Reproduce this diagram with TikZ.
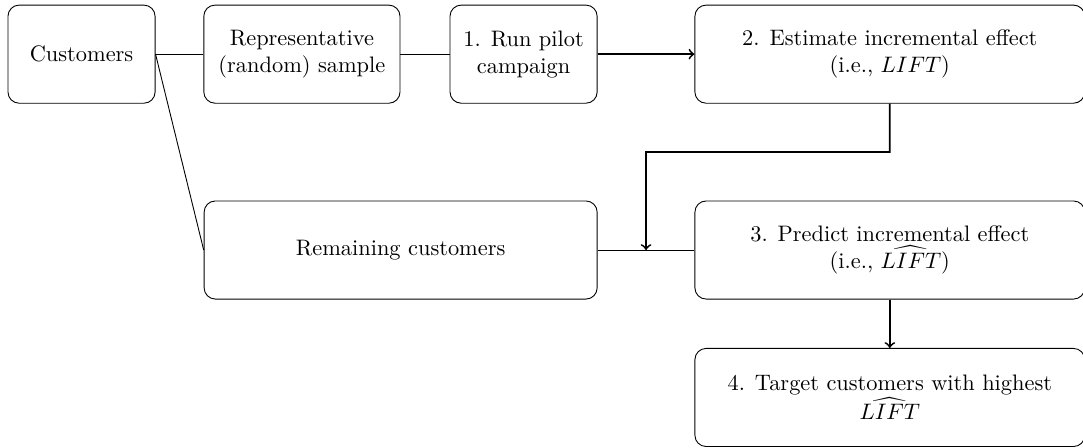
\documentclass[tikz,border=0pt]{standalone}
\usetikzlibrary{calc}
\begin{document}
\begin{tikzpicture}[
caixa/.style={rectangle,draw,rounded corners=5pt,align=center,
minimum height=1.54cm},
fluxo/.style={thick,->}
]
\useasboundingbox (0,0) rectangle (17.003,-7.018);

% linha de cima
\node[caixa,minimum width=2.31cm] (cust) at (1.28,-0.85) {Customers};
\node[caixa,minimum width=3.08cm] (rep) at (4.74,-0.85) {Representative\\(random) sample};
\node[caixa,minimum width=2.31cm] (pilot) at (8.22,-0.85) {1. Run pilot\\campaign};
\node[caixa,minimum width=6.12cm] (estim) at (13.97,-0.85) {2. Estimate incremental effect\\(i.e., $LIFT$)};
% linha de baixo
\node[caixa,minimum width=6.17cm] (remain) at (6.29,-3.925) {Remaining customers};
\node[caixa,minimum width=6.12cm] (predict) at (13.97,-3.925) {3. Predict incremental effect\\(i.e., $\widehat{LIFT}$)};
\node[caixa,minimum width=6.12cm] (target) at (13.97,-6.24) {4. Target customers with highest\\$\widehat{LIFT}$};

\draw (cust.east) -- (rep.west);
\draw (rep.east) -- (pilot.west);
\draw[fluxo] (pilot.east) -- (estim.west);
\draw (cust.east) -- (remain.west);
\draw (remain.east) -- (predict.west);
\coordinate (meio) at ($(remain.east)!0.5!(predict.west)$);
\draw[fluxo] (estim.south) -- ($(estim.south)!0.5!(predict.north)$) -| (meio);
\draw[fluxo] (predict.south) -- (target.north);

\end{tikzpicture}
\end{document}
